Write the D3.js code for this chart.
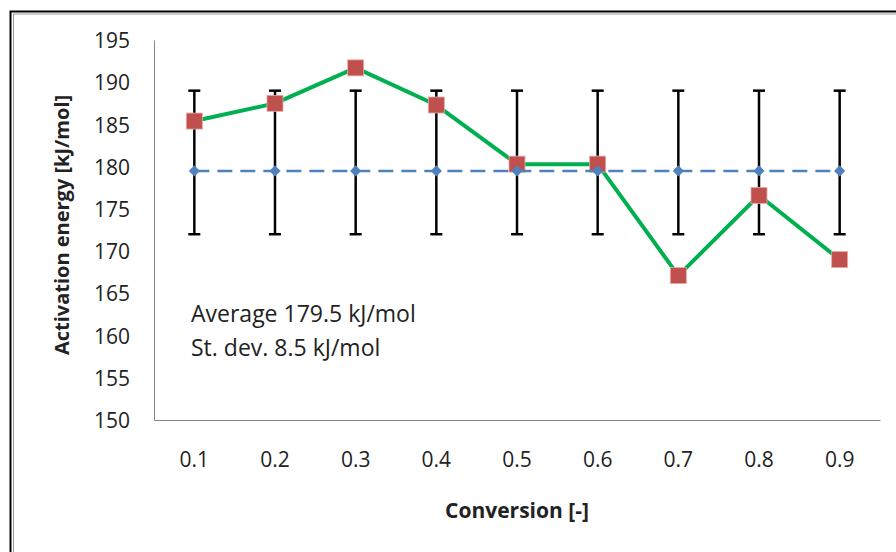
<!DOCTYPE html>
<html>
<head>
<meta charset="utf-8">
<script src="https://cdn.jsdelivr.net/npm/d3@7"></script>
<style>
  body { margin: 0; background: #fff; }
  text { font-family: "Open Sans", Lato, sans-serif; fill: #222; }
</style>
</head>
<body>
<div class="chart"></div>
<script>
const conversion = ["0.1", "0.2", "0.3", "0.4", "0.5", "0.6", "0.7", "0.8", "0.9"];
const activation = [185.4, 187.5, 191.7, 187.3, 180.3, 180.3, 167.1, 176.6, 169.0];
const average = [179.5, 179.5, 179.5, 179.5, 179.5, 179.5, 179.5, 179.5, 179.5];
const errTop = [189, 189, 189, 189, 189, 189, 189, 189, 189];
const errBottom = [172, 172, 172, 172, 172, 172, 172, 172, 172];
const yTicks = [150, 155, 160, 165, 170, 175, 180, 185, 190, 195];
const noteLines = ["Average 179.5 kJ/mol", "St. dev. 8.5 kJ/mol"];

function main(){
    const width = 896, height = 552;
    const margin = ({top: 40, right: 16, bottom: 132, left: 154});

    const svg = d3.select('.chart')
                  .append('svg')
                  .attr("width", width)
                  .attr("height", height);

    // outer frame (double line)
    svg.append("rect")
       .attr("x", 10.5).attr("y", 11.5)
       .attr("width", 1000).attr("height", 1000)
       .attr("fill", "none").attr("stroke", "#000").attr("stroke-width", 2);
    svg.append("rect")
       .attr("x", 13.5).attr("y", 14)
       .attr("width", 1000).attr("height", 1000)
       .attr("fill", "none").attr("stroke", "#999").attr("stroke-width", 1);

    const xScale = d3.scaleBand()
                     .domain(conversion)
                     .range([margin.left, width - margin.right]);

    const yScale = d3.scaleLinear()
                     .domain([150, 195])
                     .range([height - margin.bottom, margin.top]);

    const cx = d => xScale(d) + xScale.bandwidth() / 2;

    // axes
    const xAxis = d3.axisBottom(xScale).tickSize(0).tickPadding(0);
    const yAxis = d3.axisLeft(yScale).tickValues(yTicks).tickSize(0).tickPadding(0);

    const gx = svg.append("g")
       .attr("class", "axis x-axis")
       .attr("transform", `translate(0, ${height - margin.bottom})`)
       .call(xAxis);
    gx.select(".domain").attr("stroke", "#868686").attr("stroke-width", 1);
    gx.selectAll("text")
      .attr("y", 47)
      .attr("dy", 0)
      .style("font-size", "21px")
      .style("font-family", "'Open Sans', sans-serif")
      .attr("fill", "#222");

    const gy = svg.append("g")
       .attr("class", "axis y-axis")
       .attr("transform", `translate(${margin.left}, 0)`)
       .call(yAxis);
    gy.select(".domain").attr("stroke", "#868686").attr("stroke-width", 1);
    gy.selectAll("text")
      .attr("x", -24)
      .attr("dy", "0.36em")
      .style("font-size", "21px")
      .style("font-family", "'Open Sans', sans-serif")
      .attr("fill", "#222");

    // error bars
    const bars = svg.append("g").attr("stroke", "#000").attr("stroke-width", 2.5);
    conversion.forEach((c, i) => {
        bars.append("line")
            .attr("x1", cx(c)).attr("x2", cx(c))
            .attr("y1", yScale(errTop[i])).attr("y2", yScale(errBottom[i]));
        bars.append("line")
            .attr("x1", cx(c) - 6).attr("x2", cx(c) + 6)
            .attr("y1", yScale(errTop[i])).attr("y2", yScale(errTop[i]));
        bars.append("line")
            .attr("x1", cx(c) - 6).attr("x2", cx(c) + 6)
            .attr("y1", yScale(errBottom[i])).attr("y2", yScale(errBottom[i]));
    });

    // activation energy series
    const line = d3.line()
                   .x((d, i) => cx(conversion[i]))
                   .y(d => yScale(d));

    svg.append("path")
       .datum(activation)
       .attr("d", line)
       .attr("fill", "none")
       .attr("stroke", "#00B050")
       .attr("stroke-width", 4)
       .attr("stroke-linejoin", "round");

    svg.selectAll(".square")
       .data(activation)
       .enter()
       .append("rect")
       .attr("class", "square")
       .attr("x", (d, i) => cx(conversion[i]) - 8)
       .attr("y", d => yScale(d) - 8)
       .attr("width", 16)
       .attr("height", 16)
       .attr("fill", "#C0504D")
       .attr("stroke", "#E8A9A7")
       .attr("stroke-width", 0.8);

    // average series
    svg.append("path")
       .datum(average)
       .attr("d", line)
       .attr("fill", "none")
       .attr("stroke", "#4F81BD")
       .attr("stroke-width", 2.5)
       .attr("stroke-dasharray", "15,8");

    svg.selectAll(".diamond")
       .data(average)
       .enter()
       .append("path")
       .attr("class", "diamond")
       .attr("d", d3.symbol(d3.symbolDiamond2, 80))
       .attr("transform", (d, i) => `translate(${cx(conversion[i])}, ${yScale(d)})`)
       .attr("fill", "#4F81BD");

    // annotation
    svg.selectAll(".note")
       .data(noteLines)
       .enter()
       .append("text")
       .attr("class", "note")
       .attr("x", 191)
       .attr("y", (d, i) => 322 + i * 34)
       .style("font-size", "23px")
       .text(d => d);

    // axis titles
    svg.append("text")
       .attr("x", xScale.range()[0] + (xScale.range()[1] - xScale.range()[0]) / 2)
       .attr("y", 518)
       .attr("text-anchor", "middle")
       .style("font-size", "21px")
       .style("font-weight", "bold")
       .text("Conversion [-]");

    svg.append("text")
       .attr("transform", "translate(69, 225) rotate(-90)")
       .attr("text-anchor", "middle")
       .style("font-size", "20px")
       .style("font-weight", "bold")
       .text("Activation energy [kJ/mol]");
}

main();
</script>
</body>
</html>
